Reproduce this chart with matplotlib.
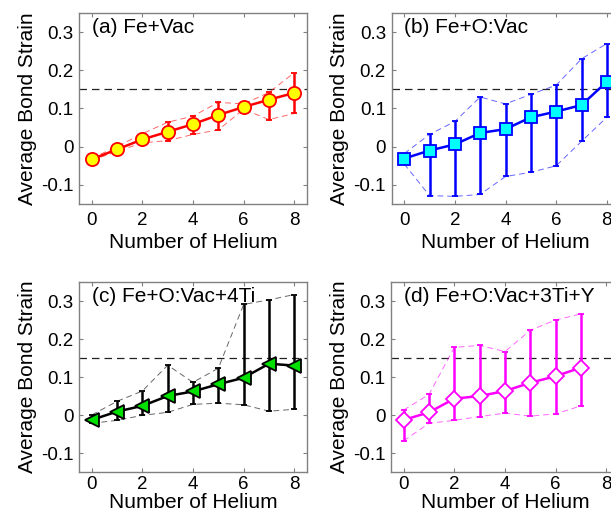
import matplotlib
matplotlib.use("Agg")
import matplotlib.pyplot as plt
import numpy as np

plt.rcParams['font.family'] = ['Liberation Sans', 'DejaVu Sans']

# ---- data ----
x_a = [0, 1, 2, 3, 4, 5, 6, 7, 8]
y_a = [-0.033, -0.007, 0.019, 0.039, 0.059, 0.083, 0.104, 0.123, 0.141]
lo_a = [-0.036, -0.012, 0.010, 0.016, 0.032, 0.044, 0.098, 0.071, 0.087]
hi_a = [-0.030, 0.000, 0.034, 0.064, 0.080, 0.116, 0.112, 0.142, 0.194]

x_b = [0, 1, 2, 3, 4, 5, 6, 7, 8]
y_b = [-0.031, -0.010, 0.006, 0.036, 0.046, 0.077, 0.092, 0.109, 0.170]
lo_b = [-0.045, -0.128, -0.130, -0.125, -0.078, -0.067, -0.050, 0.014, 0.077]
hi_b = [-0.018, 0.032, 0.066, 0.130, 0.112, 0.137, 0.161, 0.230, 0.270]

x_c = [0, 1, 2, 3, 4, 5, 6, 7, 8]
y_c = [-0.013, 0.009, 0.024, 0.050, 0.062, 0.081, 0.098, 0.135, 0.130]
lo_c = [-0.022, -0.014, -0.001, 0.007, 0.028, 0.031, 0.027, 0.010, 0.015]
hi_c = [0.000, 0.036, 0.063, 0.131, 0.086, 0.123, 0.291, 0.303, 0.317]

x_d = [0, 1, 2, 3, 4, 5, 6, 7]
y_d = [-0.013, 0.007, 0.043, 0.050, 0.063, 0.085, 0.102, 0.125]
lo_d = [-0.068, -0.022, -0.014, -0.004, 0.005, -0.003, 0.003, 0.024]
hi_d = [0.013, 0.054, 0.178, 0.183, 0.167, 0.223, 0.250, 0.266]

titles = ["(a) Fe+Vac", "(b) Fe+O:Vac", "(c) Fe+O:Vac+4Ti", "(d) Fe+O:Vac+3Ti+Y"]
xticks = [0, 2, 4, 6, 8]
yticks = [-0.1, 0, 0.1, 0.2, 0.3]
ytick_labels = ["-0.1", "0", "0.1", "0.2", "0.3"]
threshold = 0.15

W, H = 611, 519
fig = plt.figure(figsize=(W / 100, H / 100), dpi=100)

# axes boxes in pixels: left, top, width, height, x tick pad, xlabel pad
boxes = [(79, 13, 228, 191, 6, 3), (391.5, 13, 228, 191, 6, 3),
         (79, 282, 228, 190, 3, 0), (391, 282, 228, 190, 3, 0)]

series = [
    (x_a, y_a, lo_a, hi_a, dict(color='#FF0000', marker='o', mfc='#FFFF00', ms=9.5)),
    (x_b, y_b, lo_b, hi_b, dict(color='#0000FF', marker='s', mfc='#00FFFF', ms=9)),
    (x_c, y_c, lo_c, hi_c, dict(color='#000000', marker='<', mfc='#00E000', ms=10.5)),
    (x_d, y_d, lo_d, hi_d, dict(color='#FF00FF', marker='D', mfc='#FFFFFF', ms=8.5)),
]

for (l, t, w, h, xpad, lpad), (xs, ys, lo, hi, st), title in zip(boxes, series, titles):
    ax = fig.add_axes([l / W, 1 - (t + h) / H, w / W, h / H])
    xs = np.array(xs); ys = np.array(ys); lo = np.array(lo); hi = np.array(hi)
    c = st['color']
    ax.axhline(threshold, color='#222222', lw=0.9, ls=(0, (6, 4)), zorder=1)
    ax.plot(xs, lo, color=c, lw=0.7, ls=(0, (6, 4)), alpha=0.6, zorder=2)
    ax.plot(xs, hi, color=c, lw=0.7, ls=(0, (6, 4)), alpha=0.6, zorder=2)
    ax.errorbar(xs, ys, yerr=[ys - lo, hi - ys], color=c, lw=1.8, elinewidth=1.8,
                capsize=2, capthick=1.5, marker=st['marker'], mfc=st['mfc'],
                mec=c, mew=1.3, ms=st['ms'], zorder=3)
    ax.set_xlim(-0.5, 8.5)
    ax.set_ylim(-0.15, 0.35)
    ax.set_xticks(xticks)
    ax.set_yticks(yticks)
    ax.set_yticklabels(ytick_labels)
    ax.tick_params(direction='in', length=3, width=0.8, colors='#808080',
                   labelcolor='black', labelsize=13.5, top=True, right=True, pad=4)
    ax.tick_params(axis='x', pad=xpad)
    for sp in ax.spines.values():
        sp.set_color('#808080')
        sp.set_linewidth(1.0)
    ax.set_xlabel("Number of Helium", fontsize=15, labelpad=lpad)
    ax.set_ylabel("Average Bond Strain", fontsize=15, labelpad=3)
    ax.text(0.055, 0.975, title, transform=ax.transAxes, fontsize=15,
            va='top', ha='left')

fig.savefig("out.png", dpi=100)
